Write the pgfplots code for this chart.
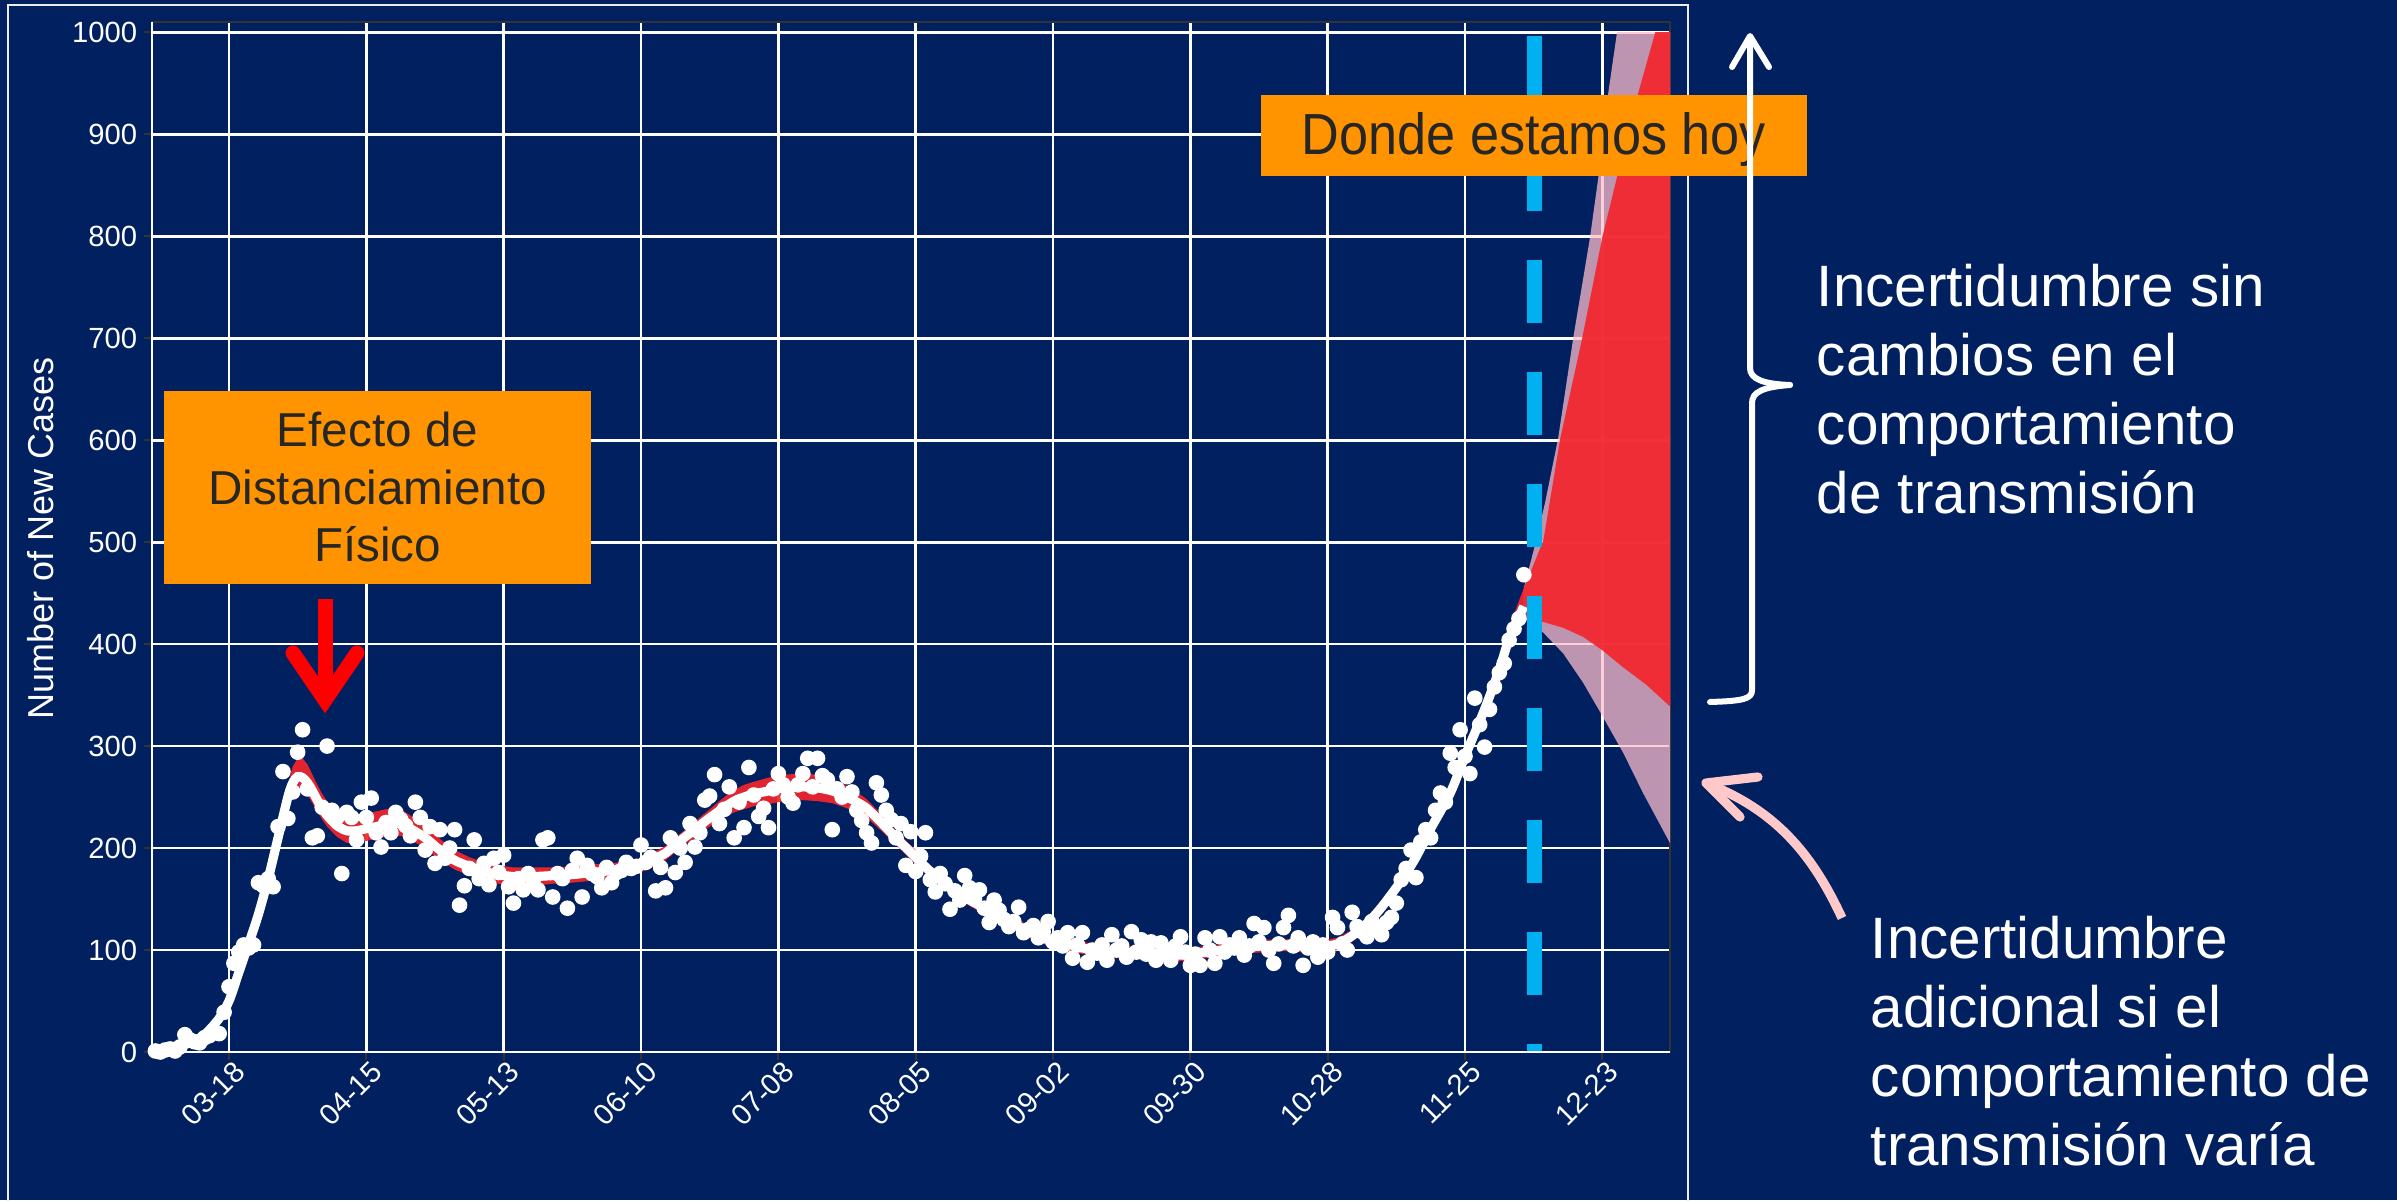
\documentclass[border=0pt]{standalone}
\usepackage{fontspec}
\setmainfont{Liberation Sans}
\newfontfamily\narrowfont[FakeStretch=0.9]{Liberation Sans}
\usepackage{pgfplots}
\pgfplotsset{compat=1.18}

\definecolor{navybg}{HTML}{002060}
\definecolor{boxorange}{HTML}{FF9400}
\definecolor{boxtext}{HTML}{262626}
\definecolor{todayblue}{HTML}{00B0F0}
\definecolor{fanred}{HTML}{F2262D}
\definecolor{fanmauve}{RGB}{253,189,203}
\definecolor{arrowpink}{HTML}{FFC9C9}
\definecolor{bordergray}{HTML}{333333}

\begin{document}
\begin{tikzpicture}
% whole image in pixel units (y from top)
\begin{scope}[x=0.25pt,y=-0.25pt,yshift=300pt]
  \fill[navybg] (0,0) rectangle (2397,1200);
  \path[use as bounding box] (0,0) rectangle (2397,1200);
  \draw[white!85!gray, line width=0.4pt] (8,1210) -- (8,5) -- (1688,5) -- (1688,1210);
\end{scope}

\begin{axis}[
  at={(38pt,37pt)}, anchor=south west,
  scale only axis, width=379.5pt, height=257.5pt,
  xmin=-15.7, xmax=293.8, ymin=0, ymax=1010,
  axis background/.style={fill=navybg},
  xmajorgrids=true, ymajorgrids=true,
  major grid style={draw=white, line width=0.7pt},
  xtick={0,28,...,280},
  xticklabels={03-18,04-15,05-13,06-10,07-08,08-05,09-02,09-30,10-28,11-25,12-23},
  ytick={0,100,...,1000},
  tick align=outside, xtick pos=bottom, ytick pos=left,
  major tick length=2pt,
  major tick style={draw=bordergray, line width=0.5pt},
  axis line style={draw=bordergray, line width=0.5pt},
  ticklabel style={white, font=\fontsize{7.3}{8}\selectfont},
  yticklabel style={xshift=1.8pt},
  xticklabel style={rotate=45, anchor=north east, xshift=4.1pt, yshift=3pt},
  /pgf/number format/assume math mode=true,
  /pgf/number format/1000 sep={},
  scaled ticks=false,
]
% confidence ribbon of the fitted curve (upper edge, then lower edge backwards)
\addplot[draw=none, fill=fanred, fill opacity=0.93] coordinates {
(-16,5) (-12,7) (-8,12) (-5,20) (-2,36) (0,53) (2,81) (4,109) (6,138) (8,173)
(10,216) (12,262) (13,280) (14,288) (15,288) (16,282) (17,272) (18,262) (19,253) (20,246)
(22,235) (24,230) (26,231) (28,234) (30,236) (33,239) (35,238) (37,232) (40,222) (43,209)
(46,198) (49,191) (52,186) (55,183) (58,181) (62,181) (66,181) (70,182) (74,184) (78,185)
(82,188) (85,192) (87,197) (89,202) (91,210) (93,218) (95,226) (97,234) (99,242) (101,250)
(103,257) (105,262) (107,265) (110,269) (113,272) (117,273) (120,272) (123,268) (126,261) (128,255)
(130,248) (133,233) (136,217) (140,198) (143,183) (147,168) (150,158) (154,147) (157,138) (161,129)
(164,123) (167,116) (171,112) (174,108) (178,105) (181,104) (188,103) (194,101) (201,105) (208,109)
(215,111) (222,109) (226,112) (229,120) (232,132) (235,148) (239,174) (242,197) (245,225) (249,260)
(252,296) (256,342) (259,383) (261,417) (264,455)
(264,425) (261,393) (259,367) (256,330) (252,284)
(249,248) (245,213) (242,185) (239,162) (235,136) (232,120) (229,108) (226,100) (222,97) (215,99)
(208,97) (201,93) (194,89) (188,91) (181,92) (178,93) (174,96) (171,100) (167,104) (164,111)
(161,117) (157,126) (154,135) (150,146) (147,156) (143,171) (140,184) (136,203) (133,217) (130,230)
(128,235) (126,239) (123,244) (120,246) (117,247) (113,246) (110,243) (107,241) (105,238) (103,235)
(101,230) (99,224) (97,218) (95,210) (93,204) (91,196) (89,188) (87,183) (85,178) (82,174)
(78,171) (74,168) (70,166) (66,165) (62,163) (58,163) (55,165) (52,168) (49,173) (46,179)
(43,188) (40,200) (37,208) (35,212) (33,212) (30,209) (28,207) (26,205) (24,205) (22,211)
(20,221) (19,228) (18,236) (17,244) (16,252) (15,257) (14,258) (13,254) (12,242) (10,205)
(8,167) (6,132) (4,103) (2,75) (0,47) (-2,30) (-5,14) (-8,6) (-12,1) (-16,0)} -- cycle;

% projection: additional uncertainty
\addplot[draw=none, fill=fanmauve, fill opacity=0.75] coordinates {
(264,455) (266,492) (268.3,538) (271,602) (274.1,701) (277.5,799) (279.2,858) (281.2,940) (283,1000) (294,1000)
(294,203) (288.3,254) (284.3,293) (280.2,328) (276.1,362) (272,391) (268,411) (266,419) (264,425)} -- cycle;
% projection: uncertainty without behaviour change
\addplot[draw=none, fill=fanred, fill opacity=0.93] coordinates {
(264,455) (266,478) (268,502) (271.4,601) (275.9,700) (280,799) (283,858) (287.3,940) (290.8,1000) (294,1000)
(294,338) (289,360) (284.3,377) (280,394) (276.1,407) (272,416) (268,421.6) (266,423) (264,425)} -- cycle;

% fitted curve
\addplot[white, line width=2.3pt, smooth] coordinates {
(-16,2) (-12,4) (-8,9) (-5,17) (-2,33) (0,50) (2,78) (4,106) (6,135) (8,170)
(10,210) (12,250) (13,264) (14,270) (15,269) (16,264) (17,256) (18,247) (19,239) (20,232)
(22,222) (24,217) (26,217) (28,219) (30,221) (33,224) (35,224) (37,219) (40,210) (43,198)
(46,188) (49,182) (52,177) (55,174) (58,172) (62,172) (66,173) (70,174) (74,176) (78,178)
(82,181) (85,185) (87,190) (89,195) (91,203) (93,211) (95,218) (97,226) (99,233) (101,240)
(103,246) (105,250) (107,253) (110,256) (113,259) (117,260) (120,259) (123,256) (126,250) (128,245)
(130,239) (133,225) (136,210) (140,191) (143,177) (147,162) (150,152) (154,141) (157,132) (161,123)
(164,117) (167,110) (171,106) (174,102) (178,99) (181,98) (188,97) (194,95) (201,99) (208,103)
(215,105) (222,103) (226,106) (229,114) (232,126) (235,142) (239,168) (242,191) (245,219) (249,254)
(252,290) (256,336) (259,375) (261,405) (264,437)};

% daily new cases
\addplot[only marks, mark=*, mark size=1.75pt, color=white] coordinates {
(-16,0) (-15,1) (-14,0) (-13,2) (-12,3) (-11,1) (-10,5) (-9,17) (-8,12) (-7,10)
(-6,9) (-5,14) (-4,16) (-3,20) (-2,18) (-1,39) (0,64) (1,87) (2,98) (3,105)
(4,102) (5,105) (6,166) (7,163) (8,170) (9,162) (10,221) (11,275) (12,229) (13,255)
(14,294) (15,316) (16,258) (17,210) (18,212) (19,240) (20,300) (21,237) (22,230) (23,175)
(24,235) (25,230) (26,208) (27,245) (28,230) (29,249) (30,215) (31,201) (32,225) (33,215)
(34,235) (35,228) (36,222) (37,212) (38,245) (39,230) (40,198) (41,221) (42,185) (43,218)
(44,190) (45,200) (46,218) (47,144) (48,163) (49,180) (50,208) (51,170) (52,185) (53,164)
(54,190) (55,176) (56,193) (57,162) (58,146) (59,170) (60,159) (61,175) (62,168) (63,159)
(64,208) (65,210) (66,152) (67,175) (68,170) (69,141) (70,178) (71,190) (72,152) (73,183)
(74,175) (75,172) (76,161) (77,181) (78,166) (79,176) (80,178) (81,186) (82,180) (83,182)
(84,203) (85,186) (86,191) (87,158) (88,181) (89,161) (90,210) (91,176) (92,200) (93,186)
(94,224) (95,201) (96,215) (97,247) (98,251) (99,272) (100,224) (101,238) (102,260) (103,210)
(104,245) (105,220) (106,279) (107,252) (108,231) (109,239) (110,220) (111,258) (112,273) (113,262)
(114,250) (115,244) (116,262) (117,273) (118,288) (119,260) (120,288) (121,271) (122,267) (123,218)
(124,258) (125,250) (126,270) (127,255) (128,237) (129,227) (130,215) (131,205) (132,264) (133,252)
(134,237) (135,228) (136,210) (137,224) (138,183) (139,216) (140,177) (141,192) (142,215) (143,169)
(144,157) (145,175) (146,165) (147,140) (148,158) (149,149) (150,173) (151,161) (152,150) (153,159)
(154,141) (155,127) (156,149) (157,139) (158,130) (159,123) (160,128) (161,142) (162,117) (163,120)
(164,124) (165,112) (166,118) (167,128) (168,108) (169,112) (170,104) (171,117) (172,92) (173,105)
(174,117) (175,88) (176,100) (177,97) (178,105) (179,90) (180,115) (181,100) (182,104) (183,93)
(184,118) (185,98) (186,110) (187,96) (188,108) (189,90) (190,107) (191,100) (192,90) (193,104)
(194,113) (195,98) (196,85) (197,96) (198,85) (199,112) (200,100) (201,87) (202,113) (203,98)
(204,105) (205,102) (206,112) (207,95) (208,104) (209,126) (210,108) (211,122) (212,100) (213,87)
(214,106) (215,122) (216,134) (217,104) (218,112) (219,85) (220,102) (221,108) (222,93) (223,105)
(224,98) (225,132) (226,122) (227,106) (228,100) (229,137) (230,123) (231,118) (232,113) (233,128)
(234,122) (235,115) (236,127) (237,132) (238,146) (239,169) (240,180) (241,198) (242,171) (243,206)
(244,218) (245,210) (246,237) (247,254) (248,245) (249,293) (250,279) (251,316) (252,290) (253,273)
(254,347) (255,321) (256,299) (257,336) (258,358) (259,372) (260,381) (261,404) (262,415) (263,425)
(264,468)};

% today
\draw[todayblue, line width=3.75pt, dash pattern=on 15.75pt off 12.25pt, dash phase=13.75pt]
  (axis cs:266.1,0) -- (axis cs:266.1,1010);
\end{axis}

\begin{scope}[x=0.25pt,y=-0.25pt,yshift=300pt]
  % white left and bottom axis lines
  \draw[white, line width=0.7pt] (152,22) -- (152,1052) -- (1670,1052);
  \node[white, rotate=90, inner sep=0, font=\fontsize{9}{10}\selectfont] at (41,538) {Number of New Cases};

  % physical distancing box and arrow
  \fill[boxorange] (164,391) rectangle (591,584);
  \begin{scope}[every node/.style={boxtext, inner sep=0, anchor=base, font=\fontsize{11.9}{14}\selectfont}]
    \node at (377.5,447) {Efecto de};
    \node at (377.5,505) {Distanciamiento};
    \node at (377.5,562) {Físico};
  \end{scope}
  \draw[red, line width=3.75pt] (325,599) -- (325,690);
  \draw[red, line width=3.75pt, line cap=round, line join=miter] (293,653) -- (325,700) -- (357,653);

  % today box
  \fill[boxorange] (1261,95) rectangle (1807,176);
  \node[boxtext, inner sep=0, anchor=base, font=\narrowfont\fontsize{14.5}{16}\selectfont] at (1534,155) {Donde estamos hoy};

  % brace with arrow
  \draw[white, line width=1.5pt, line cap=round] (1750,38) -- (1750,368) .. controls (1750,379) and (1763,384) .. (1790,385);
  \draw[white, line width=1.5pt, line cap=round] (1790,385) .. controls (1763,387) and (1752,392) .. (1752,403) -- (1752,690) .. controls (1752,699) and (1743,701) .. (1710,702);
  \draw[white, line width=1.5pt, line cap=round, line join=round] (1732,67) -- (1750,36) -- (1769,67);

  % pink arrow
  \draw[arrowpink, line width=2.3pt] (1842,918) .. controls (1815,860) and (1780,812) .. (1708,784);
  \draw[arrowpink, line width=2.3pt, line cap=round, line join=round] (1758,777) -- (1706,783) -- (1740,817);

  % right hand texts
  \begin{scope}[every node/.style={white, inner sep=0, anchor=base west, font=\fontsize{14.6}{17}\selectfont}]
    \node at (1816,307) {Incertidumbre sin};
    \node at (1816,376) {cambios en el};
    \node at (1816,445) {comportamiento};
    \node at (1816,514) {de transmisión};
    \node at (1870,958) {Incertidumbre};
    \node at (1870,1027) {adicional si el};
    \node at (1870,1096) {comportamiento de};
    \node at (1870,1165) {transmisión varía};
  \end{scope}
\end{scope}
\end{tikzpicture}
\end{document}
